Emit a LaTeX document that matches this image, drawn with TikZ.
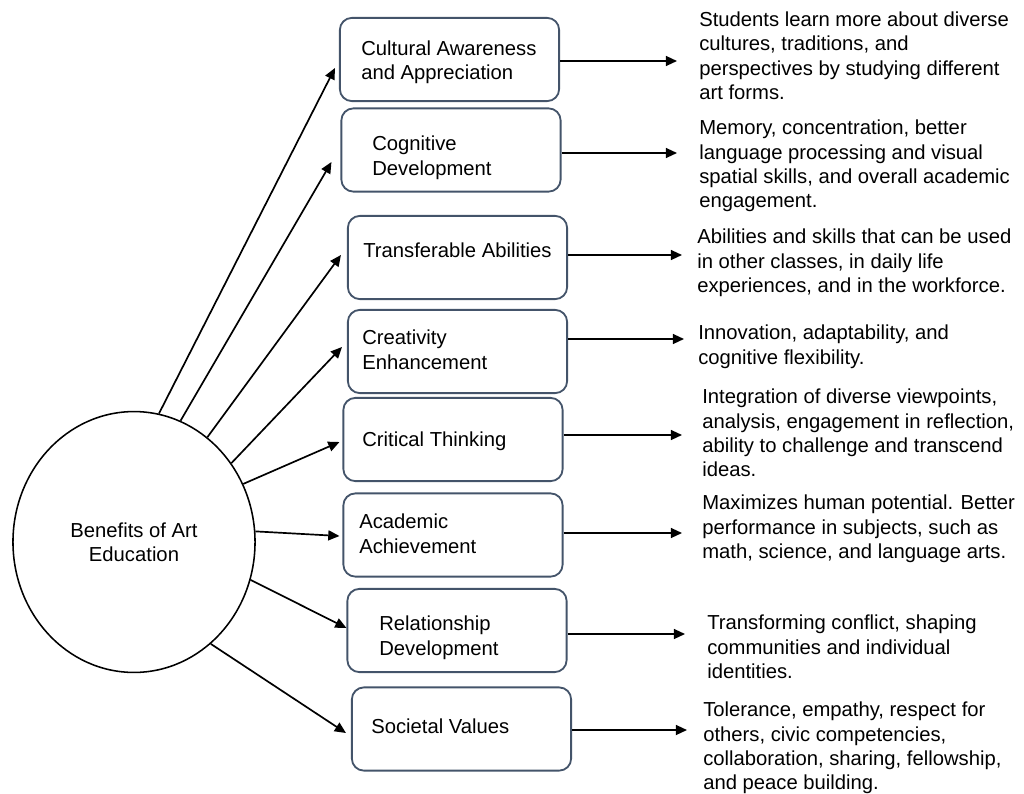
\documentclass[tikz,border=0pt]{standalone}
\usepackage{fontspec}
\setmainfont{Liberation Sans}
\usetikzlibrary{arrows.meta, calc, shapes.geometric, positioning}
\definecolor{boxline}{RGB}{68,84,106}
\newcommand{\drawarr}{\draw[line width=1.2pt,->]}
\tikzset{
  benbox/.style={draw=boxline, line width=1.3pt, rounded corners=0.3cm,
    minimum width=5.48cm, minimum height=2.08cm, inner sep=0pt},
  boxtext/.style={anchor=north west, align=left, inner sep=0pt,
    font=\fontsize{14.4}{17.1}\selectfont},
  desctext/.style={boxtext}
}

\begin{document}
\begin{tikzpicture}[x=0.025cm, y=-0.025cm, >={Triangle[length=2.8mm,width=2.5mm]}]
\useasboundingbox (0,0) rectangle (1024,794);
% Main ellipse
\node[ellipse, draw, line width=1.1pt, minimum width=6.05cm, minimum height=6.52cm,
  align=center, font=\fontsize{14.4}{17.1}\selectfont] (ben) at (134,542) {Benefits of Art\\Education};

% Boxes
\node[benbox] (b1) at (449.5,59.5) {};
\node[benbox] (b2) at (451,150) {};
\node[benbox] (b3) at (457.5,257.5) {};
\node[benbox] (b4) at (457.5,351.5) {};
\node[benbox] (b5) at (453,439.5) {};
\node[benbox] (b6) at (453,535) {};
\node[benbox] (b7) at (457,630.5) {};
\node[benbox] (b8) at (461.5,729) {};

% Box texts
\node[boxtext] (t1) at (361,41) {Cultural Awareness\\and Appreciation};
\node[boxtext] (t2) at (372,136) {Cognitive\\Development};
\node[boxtext] (t3) at (363,243) {Transferable Abilities};
\node[boxtext] (t4) at (362,330) {Creativity\\Enhancement};
\node[boxtext] (t5) at (362,432) {Critical Thinking};
\node[boxtext] (t6) at (359,514) {Academic\\Achievement};
\node[boxtext] (t7) at (379,616) {Relationship\\Development};
\node[boxtext] (t8) at (371,719) {Societal Values};

% Descriptions
\node[desctext] (d1) at (699,12) {Students learn more about diverse\\cultures, traditions, and\\perspectives by studying different\\art forms.};
\node[desctext] (d2) at (699,120) {Memory, concentration, better\\language processing and visual\\spatial skills, and overall academic\\engagement.};
\node[desctext] (d3) at (697,229) {Abilities and skills that can be used\\in other classes, in daily life\\experiences, and in the workforce.};
\node[desctext] (d4) at (698,325) {Innovation, adaptability, and\\cognitive flexibility.};
\node[desctext] (d5) at (702,389) {Integration of diverse viewpoints,\\analysis, engagement in reflection,\\ability to challenge and transcend\\ideas.};
\node[desctext] (d6) at (702,495) {Maximizes human potential. Better\\performance in subjects, such as\\math, science, and language arts.};
\node[desctext] (d7) at (707,615) {Transforming conflict, shaping\\communities and individual\\identities.};
\node[desctext] (d8) at (703,702) {Tolerance, empathy, respect for\\others, civic competencies,\\collaboration, sharing, fellowship,\\and peace building.};

% Arrows from ellipse to boxes
\drawarr (ben.79) -- ($(b1.west)+(-4,8.5)$);
\drawarr (ben.69) -- ($(b2.west)+(-9,12)$);
\drawarr (ben.55) -- ($(b3.west)+(-6,-2.5)$);
\drawarr (ben.39) -- ($(b4.west)+(-5,-4.5)$);
\drawarr (ben.28) -- ($(b5.west)+(-3,2.5)$);
\drawarr (ben.5) -- ($(b6.west)+(-3,1)$);
\drawarr (ben.-18) -- ($(b7.west)+(0,-2.5)$);
\drawarr (ben.-53) -- ($(b8.west)+(-5,4)$);

% Arrows from boxes to descriptions
\drawarr ($(b1.east)+(0,1.5)$) -- ($(b1.east -| d1.west)+(-22,1.5)$);
\drawarr ($(b2.east)+(0,3)$) -- ($(b2.east -| d2.west)+(-22,3)$);
\drawarr ($(b3.east)+(0,-2.5)$) -- ($(b3.east -| d3.west)+(-15,-2.5)$);
\drawarr ($(b4.east)+(0,-12.5)$) -- ($(b4.east -| d4.west)+(-14,-12.5)$);
\drawarr ($(b5.east)+(0,-4.5)$) -- ($(b5.east -| d5.west)+(-20,-4.5)$);
\drawarr ($(b6.east)+(0,-2)$) -- ($(b6.east -| d6.west)+(-20,-2)$);
\drawarr ($(b7.east)+(0,3.5)$) -- ($(b7.east -| d7.west)+(-22,3.5)$);
\drawarr ($(b8.east)+(0,1)$) -- ($(b8.east -| d8.west)+(-16,1)$);

\end{tikzpicture}
\end{document}
